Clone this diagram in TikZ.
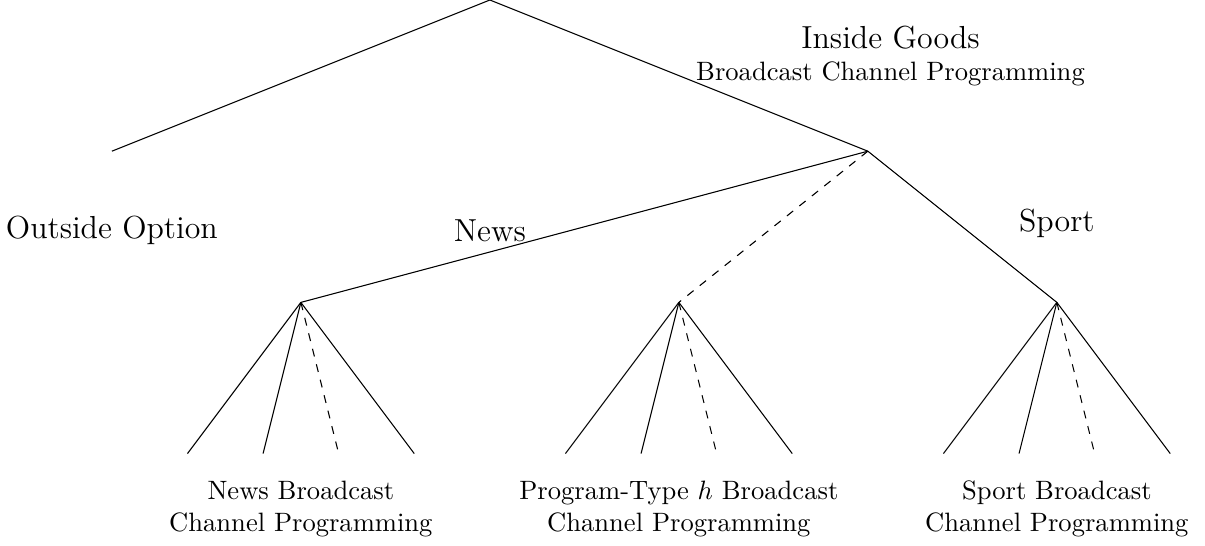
\documentclass[tikz,border=0pt]{standalone}
\usetikzlibrary{positioning}

\begin{document}
\begin{tikzpicture}[node distance=1.05cm, auto]
    \useasboundingbox (-6.48,0) rectangle (9.46,-7.22);

    \coordinate (root) at (0,0);
    \coordinate (outside) at (-5,-2);
    \coordinate (inside) at (5,-2);
    \coordinate (news) at (-2.5,-4);
    \coordinate (prog) at (2.5,-4);
    \coordinate (sport) at (7.5,-4);

    \node [below of=outside, font=\large] (outsidelbl) {Outside Option};
    \node [align=center] at (5.3,-0.74) (insidelbl) {{\large Inside Goods}\\Broadcast Channel Programming};
    \node [font=\large] at (0,-3.05) (newslbl) {News};
    \node [font=\large] at (7.5,-2.96) (sportlbl) {Sport};

    \path [draw] (root) -- (outside);
    \path [draw] (root) -- (inside);
    \path [draw] (inside) -- (news);
    \path [draw, dashed] (inside) -- (prog);
    \path [draw] (inside) -- (sport);

    \foreach \g/\txt in {news/News Broadcast, prog/Program-Type $h$ Broadcast, sport/Sport Broadcast} {
        \coordinate [below left=2cm and 1.5cm of \g] (\g-1);
        \coordinate [below left=2cm and 0.5cm of \g] (\g-2);
        \coordinate [below right=2cm and 0.5cm of \g] (\g-3);
        \coordinate [below right=2cm and 1.5cm of \g] (\g-4);
        \node [align=center, below of=\g, node distance=2.73cm] (\g-lbl) {\txt\\Channel Programming};

        \path [draw] (\g) -- (\g-1);
        \path [draw] (\g) -- (\g-2);
        \path [draw, dashed] (\g) -- (\g-3);
        \path [draw] (\g) -- (\g-4);
    }
\end{tikzpicture}
\end{document}
